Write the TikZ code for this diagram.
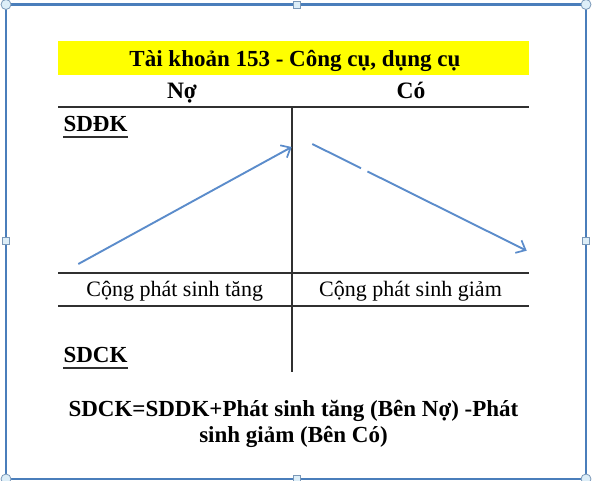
\documentclass[tikz,border=0pt]{standalone}
\usepackage{fontspec}
\setmainfont{Liberation Serif}
\usetikzlibrary{arrows.meta}
\definecolor{framec}{HTML}{4A7EBB}
\definecolor{arrowc}{HTML}{5B8CCB}
\definecolor{handlef}{HTML}{DDEEF8}
\definecolor{handled}{HTML}{7A98B8}
\definecolor{lemon}{HTML}{FFFF00}
\definecolor{rulec}{HTML}{303030}
\tikzset{
  rulel/.style={draw=rulec, line width=1.7pt},
  arr/.style={draw=arrowc, line width=1.9pt, -{Straight Barb[length=8pt,width=14pt,line width=1.7pt]}},
  handlec/.style={draw=handled, fill=handlef, line width=0.8pt},
  lbl/.style={inner sep=0pt, anchor=base},
  bigb/.style={font=\fontsize{23}{27}\selectfont\bfseries},
  normt/.style={font=\fontsize{22}{26}\selectfont},
  headb/.style={font=\fontsize{23.5}{27}\selectfont\bfseries},
}
\begin{document}
\begin{tikzpicture}[x=1pt,y=-1pt]
\useasboundingbox (0,0) rectangle (594,481);
% selection frame
\draw[framec, line width=2.6pt] (6,4.5) rectangle (586,479);
\foreach \p in {(6,4.5),(586,4.5),(6,479),(586,479)} \draw[handlec] \p circle (5);
\foreach \p in {(296.5,4.5),(296.5,479),(6,241),(586,241)} \draw[handlec] \p ++(-3.5,-3.5) rectangle ++(7,7);
% title bar
\fill[lemon] (58,41) rectangle (529,75.3);
\node[lbl, bigb] (title) at (295,66.5) {Tài khoản 153 - Công cụ, dụng cụ};
\node[lbl, headb] (no) at (182,98.5) {Nợ};
\node[lbl, headb] (co) at (411,98.5) {Có};
% T lines
\coordinate (tl) at (58,107.3);
\coordinate (tr) at (529,107.3);
\coordinate (vt) at (292.3,107.3);
\coordinate (vb) at (292.3,372);
\draw[rulel] (tl) -- (tr);
\draw[rulel] (vt) -- (vb);
\draw[rulel] (58,273.3) -- (529,273.3);
\draw[rulel] (58,305.7) -- (529,305.7);
% SDDK / SDCK
\node[lbl, bigb, anchor=base west] (sddk) at (63.3,131.7) {SDĐK};
\draw[rulec, line width=1.8pt] ([yshift=-5pt]sddk.base west) -- ([yshift=-5pt]sddk.base east);
\node[lbl, bigb, anchor=base west] (sdck) at (63.3,362.7) {SDCK};
\draw[rulec, line width=1.8pt] ([yshift=-5pt]sdck.base west) -- ([yshift=-5pt]sdck.base east);
% arrows
\coordinate (a1s) at (78.3,264);
\coordinate (a1e) at (291.7,147);
\coordinate (a2s) at (312.3,144);
\coordinate (a2e) at (526.7,250.7);
\draw[arr] (a1s) -- (a1e);
\draw[arr, dash pattern=on 54.4pt off 7.2pt on 400pt] (a2s) -- (a2e);
% totals
\node[lbl, normt] (psT) at (174.7,296.7) {Cộng phát sinh tăng};
\node[lbl, normt] (psG) at (410.5,296.7) {Cộng phát sinh giảm};
% formula
\node[lbl, bigb] (f1) at (293.5,416) {SDCK=SDDK+Phát sinh tăng (Bên Nợ) -Phát};
\node[lbl, bigb] (f2) at (293.5,442.7) {sinh giảm (Bên Có)};
\end{tikzpicture}
\end{document}
